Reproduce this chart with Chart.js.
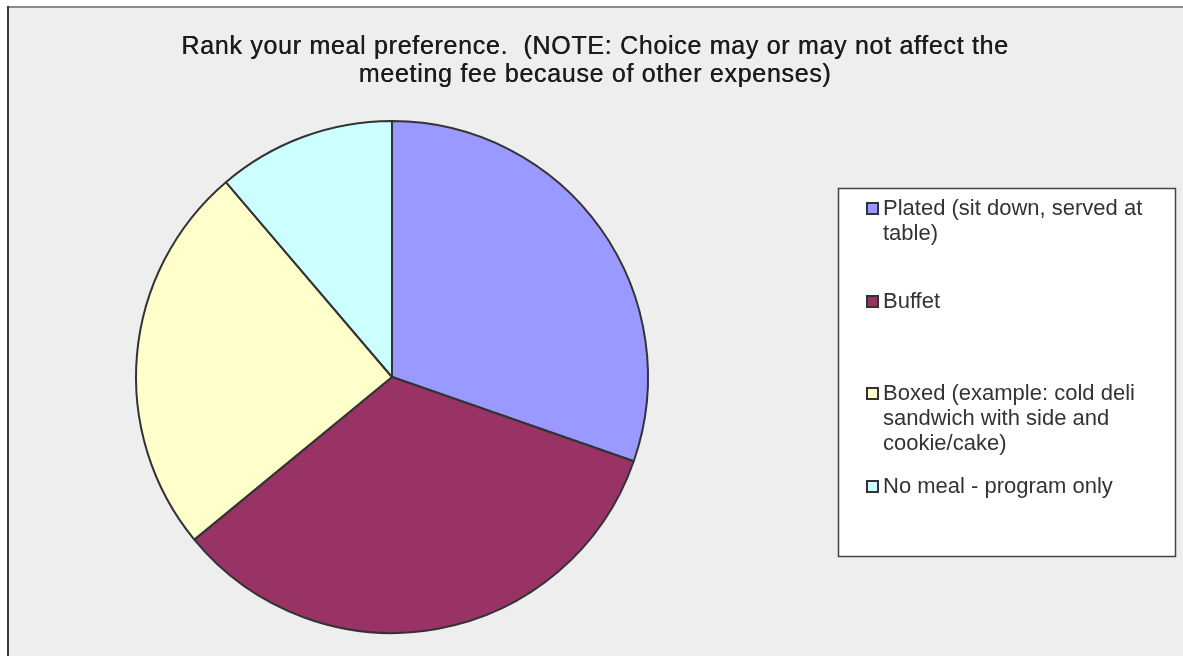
<!DOCTYPE html>
<html>
<head>
<meta charset="utf-8">
<script src="https://cdn.jsdelivr.net/npm/chart.js@4.4.1/dist/chart.umd.min.js"></script>
<style>
  html, body { margin: 0; padding: 0; background: #ffffff; }
  #wrap { width: 1183px; height: 656px; position: relative; }
</style>
</head>
<body>
<div id="wrap"><canvas id="c" width="1183" height="656"></canvas></div>
<script>
// Survey answers: meal preference
const titleLines = [
  "Rank your meal preference.  (NOTE: Choice may or may not affect the",
  "meeting fee because of other expenses)"
];
const categories = [
  "Plated (sit down, served at table)",
  "Buffet",
  "Boxed (example: cold deli sandwich with side and cookie/cake)",
  "No meal - program only"
];
const legendLines = [
  ["Plated (sit down, served at", "table)"],
  ["Buffet"],
  ["Boxed (example: cold deli", "sandwich with side and", "cookie/cake)"],
  ["No meal - program only"]
];
const responses = [27, 30, 22, 10];
const sliceColors = ["#9999ff", "#993366", "#ffffcc", "#ccffff"];

const FONT = "'Liberation Sans', Arial, sans-serif";

// Grey plot frame with its left and top edges
const framePlugin = {
  id: 'frame',
  beforeDraw(chart) {
    const ctx = chart.ctx;
    ctx.save();
    ctx.fillStyle = '#ffffff';
    ctx.fillRect(0, 0, chart.width, chart.height);
    ctx.fillStyle = '#eeeeee';
    ctx.fillRect(7, 6, chart.width - 7, chart.height - 6);
    ctx.fillStyle = '#8a8a8a';
    ctx.fillRect(7, 6, chart.width - 7, 2);
    ctx.fillStyle = '#3a3a3a';
    ctx.fillRect(7, 6, 2, chart.height - 6);
    ctx.restore();
  }
};

// Title and boxed legend
const overlayPlugin = {
  id: 'overlay',
  afterDraw(chart) {
    const ctx = chart.ctx;
    ctx.save();
    ctx.fillStyle = '#1c1c1c';
    ctx.font = '25px ' + FONT;
    ctx.letterSpacing = '0.7px';
    ctx.textAlign = 'center';
    ctx.textBaseline = 'middle';
    const tops = [47, 75];
    titleLines.forEach((t, i) => {
      ctx.fillText(t, 595, tops[i]);
      ctx.fillText(t, 595.4, tops[i]);
    });
    ctx.letterSpacing = '0px';

    // legend box
    const bx = 838.5, by = 188.5, bw = 337, bh = 368;
    ctx.fillStyle = '#ffffff';
    ctx.fillRect(bx, by, bw, bh);
    ctx.strokeStyle = '#444444';
    ctx.lineWidth = 1.5;
    ctx.strokeRect(bx, by, bw, bh);

    const ds = chart.data.datasets[0];
    const rowY = [209, 302, 394, 487];
    const lineH = 25;
    ctx.font = '22px ' + FONT;
    ctx.textAlign = 'left';
    ctx.textBaseline = 'middle';
    legendLines.forEach((lines, i) => {
      const y = rowY[i];
      ctx.fillStyle = ds.backgroundColor[i];
      ctx.fillRect(867, y - 6, 11, 11);
      ctx.strokeStyle = '#333333';
      ctx.lineWidth = 2;
      ctx.strokeRect(867, y - 6, 11, 11);
      ctx.fillStyle = '#333333';
      lines.forEach((ln, k) => ctx.fillText(ln, 883, y + k * lineH));
    });
    ctx.restore();
  }
};

new Chart(document.getElementById('c'), {
  type: 'pie',
  data: {
    labels: categories,
    datasets: [{
      data: responses,
      backgroundColor: sliceColors,
      borderColor: '#333333',
      borderWidth: 2,
      borderAlign: 'center'
    }]
  },
  options: {
    responsive: false,
    animation: false,
    events: [],
    layout: { padding: { left: 135, right: 534, top: 120, bottom: 22 } },
    plugins: {
      legend: { display: false },
      title: { display: false },
      tooltip: { enabled: false }
    }
  },
  plugins: [framePlugin, overlayPlugin]
});
</script>
</body>
</html>
